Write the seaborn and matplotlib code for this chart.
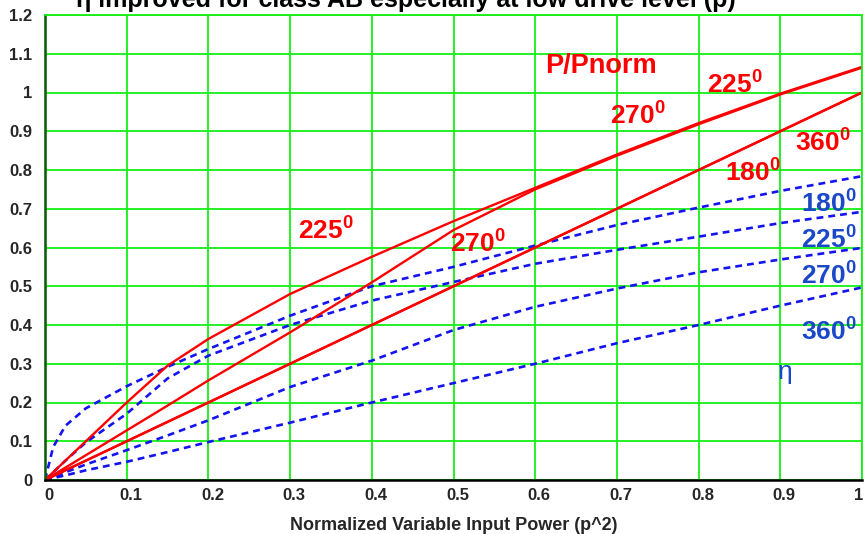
import matplotlib
matplotlib.use("Agg")
import matplotlib.pyplot as plt
import matplotlib.transforms as mtransforms
import seaborn as sns

# ---- data ----
x_vals = [0, 0.01, 0.025, 0.05, 0.1, 0.15, 0.2, 0.3, 0.4, 0.5, 0.6, 0.7, 0.8, 0.9, 1.0]

p_180 = [0, 0.01, 0.025, 0.05, 0.1, 0.15, 0.2, 0.3, 0.4, 0.5, 0.6, 0.7, 0.8, 0.9, 1.0]
p_225 = [0, 0.02, 0.05, 0.1, 0.2, 0.295, 0.364, 0.48, 0.576, 0.668, 0.754, 0.84, 0.921, 0.997, 1.066]
p_270 = [0, 0.013, 0.032, 0.064, 0.128, 0.192, 0.257, 0.381, 0.51, 0.645, 0.75, 0.837, 0.918, 0.995, 1.064]
p_360 = [0, 0.01, 0.025, 0.05, 0.1, 0.15, 0.2, 0.3, 0.4, 0.5, 0.6, 0.7, 0.8, 0.9, 1.0]

eta_180 = [0, 0.085, 0.14, 0.185, 0.242, 0.292, 0.338, 0.424, 0.5, 0.55, 0.605, 0.658, 0.703, 0.746, 0.784]
eta_225 = [0, 0.02, 0.05, 0.097, 0.171, 0.262, 0.321, 0.4, 0.463, 0.511, 0.558, 0.594, 0.628, 0.663, 0.692]
eta_270 = [0, 0.008, 0.02, 0.04, 0.077, 0.115, 0.154, 0.24, 0.308, 0.387, 0.447, 0.494, 0.536, 0.569, 0.599]
eta_360 = [0, 0.005, 0.012, 0.025, 0.047, 0.072, 0.098, 0.148, 0.2, 0.25, 0.3, 0.353, 0.4, 0.45, 0.497]

x_ticks = [0, 0.1, 0.2, 0.3, 0.4, 0.5, 0.6, 0.7, 0.8, 0.9, 1.0]
x_tick_labels = ["0", "0.1", "0.2", "0.3", "0.4", "0.5", "0.6", "0.7", "0.8", "0.9", "1"]
y_ticks = [0, 0.1, 0.2, 0.3, 0.4, 0.5, 0.6, 0.7, 0.8, 0.9, 1.0, 1.1, 1.2]
y_tick_labels = ["0", "0.1", "0.2", "0.3", "0.4", "0.5", "0.6", "0.7", "0.8", "0.9", "1", "1.1", "1.2"]

title_text = "η improved for class AB especially at low drive level (p)"
x_label = "Normalized Variable Input Power (p^2)"

# ---- style ----
sns.set_style("white")
plt.rcParams["font.family"] = ["Liberation Sans", "DejaVu Sans"]
plt.rcParams["mathtext.fontset"] = "custom"
plt.rcParams["mathtext.rm"] = "Liberation Sans:bold"
plt.rcParams["mathtext.it"] = "Liberation Sans:bold"
plt.rcParams["mathtext.bf"] = "Liberation Sans:bold"

RED = "#FF0000"
BLUE_LINE = "#1414F0"
BLUE_TEXT = "#1A48C8"
GRID = "#14F014"

fig = plt.figure(figsize=(8.65, 5.34), dpi=100)
ax = fig.add_axes([45 / 865, (534 - 480) / 534, 817 / 865, 465 / 534])

for ys in (eta_180, eta_225, eta_270, eta_360):
    sns.lineplot(x=x_vals, y=ys, ax=ax, color=BLUE_LINE, linewidth=1.9,
                 linestyle=(0, (2.6, 1.9)), estimator=None, sort=False)
for ys in (p_180, p_360, p_270, p_225):
    sns.lineplot(x=x_vals, y=ys, ax=ax, color=RED, linewidth=1.7,
                 estimator=None, sort=False)

ax.set_xlim(0, 1)
ax.set_ylim(0, 1.2)
ax.set_xticks(x_ticks)
ax.set_xticklabels(x_tick_labels)
ax.set_yticks(y_ticks)
ax.set_yticklabels(y_tick_labels)
ax.tick_params(length=0, labelsize=12, pad=6)
for lab in ax.get_xticklabels() + ax.get_yticklabels():
    lab.set_fontweight("bold")
xlabs = ax.get_xticklabels()
offset = mtransforms.ScaledTranslation(4 / 100, 0, fig.dpi_scale_trans)
for lab in xlabs[:-1]:
    lab.set_transform(lab.get_transform() + offset)
last_off = mtransforms.ScaledTranslation(-3 / 100, 0, fig.dpi_scale_trans)
xlabs[-1].set_transform(xlabs[-1].get_transform() + last_off)
ax.tick_params(axis="y", pad=9)

ax.grid(True, color=GRID, linewidth=1.3)
ax.set_axisbelow(True)
ax.spines["left"].set_color("#005A00")
ax.spines["left"].set_linewidth(1.8)
ax.spines["bottom"].set_color("black")
ax.spines["bottom"].set_linewidth(1.8)
ax.spines["top"].set_color(GRID)
ax.spines["top"].set_linewidth(1.3)
ax.spines["right"].set_color(GRID)
ax.spines["right"].set_linewidth(1.3)

ax.set_xlabel(x_label, fontsize=13, fontweight="bold", labelpad=10)
ax.set_ylabel("")

# ---- annotations ----
ax.text(0.612, 1.051, "P/Pnorm", color=RED, fontsize=19.5, fontweight="bold",
        ha="left", va="baseline")
red_labels = [("225", 0.810, 0.998), ("270", 0.692, 0.917), ("360", 0.918, 0.848),
              ("180", 0.832, 0.771), ("225", 0.310, 0.620), ("270", 0.496, 0.586)]
for txt, xx, yy in red_labels:
    ax.text(xx, yy, "$" + txt + "^{0}$", color=RED, fontsize=19,
            ha="left", va="baseline", clip_on=False)
blue_labels = [("180", 0.925, 0.690), ("225", 0.925, 0.598), ("270", 0.925, 0.504),
               ("360", 0.925, 0.360)]
for txt, xx, yy in blue_labels:
    ax.text(xx, yy, "$" + txt + "^{0}$", color=BLUE_TEXT, fontsize=19,
            ha="left", va="baseline", clip_on=False)
ax.text(0.906, 0.278, "η", color=BLUE_TEXT, fontsize=19, ha="center", va="center")

fig.text(0.469, 1 - 7 / 534, title_text, fontsize=18, fontweight="bold",
         ha="center", va="baseline", color="black")

fig.savefig("out.png", dpi=100)
